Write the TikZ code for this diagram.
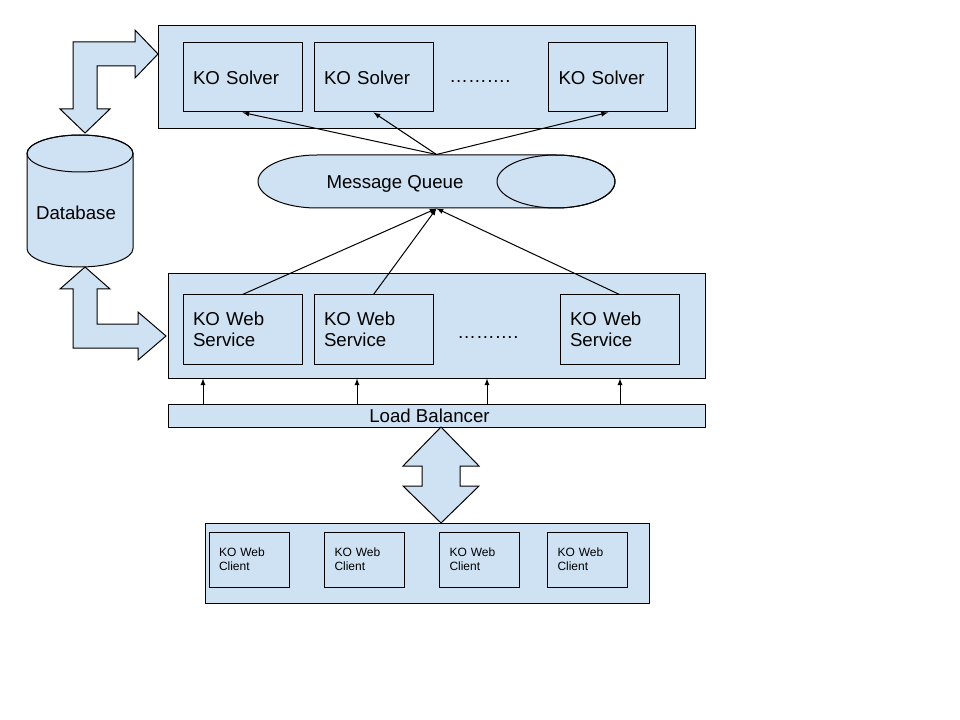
\documentclass[tikz,border=0pt]{standalone}
\usepackage{fontspec}
\setmainfont{Liberation Sans}
\usetikzlibrary{arrows}
\definecolor{boxblue}{HTML}{CFE2F3}

\begin{document}
\begin{tikzpicture}[x=0.75pt, y=-0.75pt, line width=0.75pt,
  panel/.style = {draw, fill=boxblue, inner sep=0pt, font=\fontsize{14}{15.75}\selectfont},
  unit/.style = {draw, fill=boxblue, align=left, inner xsep=7.5pt, inner ysep=0pt,
    text width=74.25pt, minimum height=51.75pt, font=\fontsize{14}{15.75}\selectfont},
  client/.style = {unit, text width=45pt, minimum height=41.25pt, font=\fontsize{9}{10.5}\selectfont},
  label/.style = {inner sep=0pt, font=\fontsize{14}{15.75}\selectfont},
  link/.style = {-latex},
  block/.style = {draw, fill=boxblue, line join=miter}]
\useasboundingbox (0,0) rectangle (960,720);

% panels
\node[panel, minimum width=402.75pt, minimum height=77.25pt] (solvers) at (426.5,77.5) {};
\node[panel, minimum width=402.75pt, minimum height=78pt] (web) at (436.5,326) {};
\node[panel, minimum width=402.75pt, minimum height=17.25pt] (lb) at (436.5,415.5) {};
\node[label] (lbtext) at (429.5,416) {Load Balancer};
\node[panel, minimum width=333pt, minimum height=60pt] (clients) at (427,563) {};

% solvers and services
\node[unit] (s1) at (242.5,77.5) {KO Solver};
\node[unit] (s2) at (373.5,77.5) {KO Solver};
\node[unit] (s3) at (608,77.5) {KO Solver};
\node[label] (sdots) at (480,82) {……….};
\node[unit] (w1) at (242.5,329.5) {KO Web\\Service};
\node[unit] (w2) at (373.5,329.5) {KO Web\\Service};
\node[unit] (w3) at (619.5,329.5) {KO Web\\Service};
\node[label] (wdots) at (488,338) {……….};
\node[client] (c1) at (249,559.5) {KO Web\\Client};
\node[client] (c2) at (364.5,559.5) {KO Web\\Client};
\node[client] (c3) at (479.5,559.5) {KO Web\\Client};
\node[client] (c4) at (587.5,559.5) {KO Web\\Client};

% message queue
\draw[block] (317,155) -- (556,155) arc[start angle=-90, end angle=90, x radius=59, y radius=26.5]
  -- (317,208) arc[start angle=90, end angle=270, x radius=59, y radius=26.5] -- cycle;
\draw (556,181.5) ellipse [x radius=59, y radius=26.5];
\node[inner sep=0pt, minimum width=267.75pt, minimum height=39.75pt] (mq) at (436.5,181.5) {};
\node[label] (mqtext) at (395,183.5) {Message Queue};

% database
\draw[block] (27,153.5) -- (27,248.5) arc[start angle=180, end angle=0, x radius=53, y radius=18.5]
  -- (133,153.5) arc[start angle=0, end angle=-180, x radius=53, y radius=18.5] -- cycle;
\draw (80,153.5) ellipse [x radius=53, y radius=18.5];
\node[label] (db) at (76,213) {Database};

% block arrows
\draw[block] (158,54) -- (135,30) -- (135,42) -- (73,42) -- (73,109) -- (60,109) -- (85,133)
  -- (110,109) -- (97,109) -- (97,66) -- (135,66) -- (135,78) -- cycle;
\draw[block] (85,267) -- (110,289) -- (97,289) -- (97,324) -- (138,324) -- (138,312) -- (166,336)
  -- (138,360) -- (138,348) -- (73,348) -- (73,289) -- (60,289) -- cycle;
\draw[block] (441,427) -- (479,466) -- (460,466) -- (460,486) -- (479,486) -- (441,523)
  -- (403,486) -- (422,486) -- (422,466) -- (403,466) -- cycle;

% links
\foreach \s in {s1,s2,s3} \draw[link] (mq.north) -- (\s.south);
\foreach \w in {w1,w2,w3} \draw[link] (\w.north) -- (mq.south);
\foreach \x in {203,357,487,620} \draw[link] (\x,0 |- lb.north) -- (\x,0 |- web.south);
\end{tikzpicture}
\end{document}
